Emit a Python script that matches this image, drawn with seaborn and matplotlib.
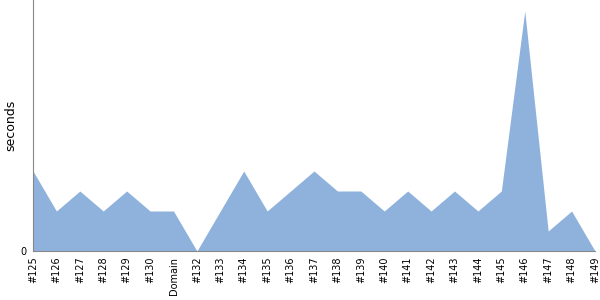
import matplotlib
matplotlib.use("Agg")
import matplotlib.pyplot as plt
import seaborn as sns
import pandas as pd

builds = ["#125", "#126", "#127", "#128", "#129", "#130", "Domain", "#132", "#133",
          "#134", "#135", "#136", "#137", "#138", "#139", "#140", "#141", "#142",
          "#143", "#144", "#145", "#146", "#147", "#148", "#149"]
seconds = [4, 2, 3, 2, 3, 2, 2, 0, 2, 4, 2, 3, 4, 3, 3, 2, 3, 2, 3, 2, 3, 12, 1, 2, 0]

sns.set_style("white")
plt.rcParams['font.family'] = ['DejaVu Sans']
plt.rcParams['text.color'] = 'black'
plt.rcParams['axes.labelcolor'] = 'black'
plt.rcParams['xtick.color'] = 'black'
plt.rcParams['ytick.color'] = 'black'

df = pd.DataFrame({"build": builds, "seconds": seconds, "x": range(len(builds))})

fig = plt.figure(figsize=(6, 3), dpi=100)
ax = fig.add_axes([33/600, 49/300, 562/600, 251/300])
sns.lineplot(data=df, x="x", y="seconds", ax=ax, color="#8fb2dc", linewidth=0)
ax.fill_between(df["x"], df["seconds"], color="#8fb2dc", linewidth=0)

ax.set_xlim(0, len(builds) - 1)
ax.set_ylim(0, 12.55)
ax.set_xticks(df["x"])
ax.set_xticklabels(builds, rotation=90, fontsize=7)
ax.set_yticks([0])
ax.set_yticklabels(["0"], fontsize=7)
ax.set_xlabel("")
ax.set_ylabel("seconds", fontsize=9)
ax.yaxis.set_label_coords(-0.028, 0.5)
ax.tick_params(axis="x", length=0, pad=4)
ax.tick_params(axis="y", length=3, width=0.8, color="#888888", pad=2)
for s in ["top", "right"]:
    ax.spines[s].set_visible(False)
for s in ["left", "bottom"]:
    ax.spines[s].set_color("#888888")
    ax.spines[s].set_linewidth(0.8)

fig.savefig("out.png", dpi=100)
